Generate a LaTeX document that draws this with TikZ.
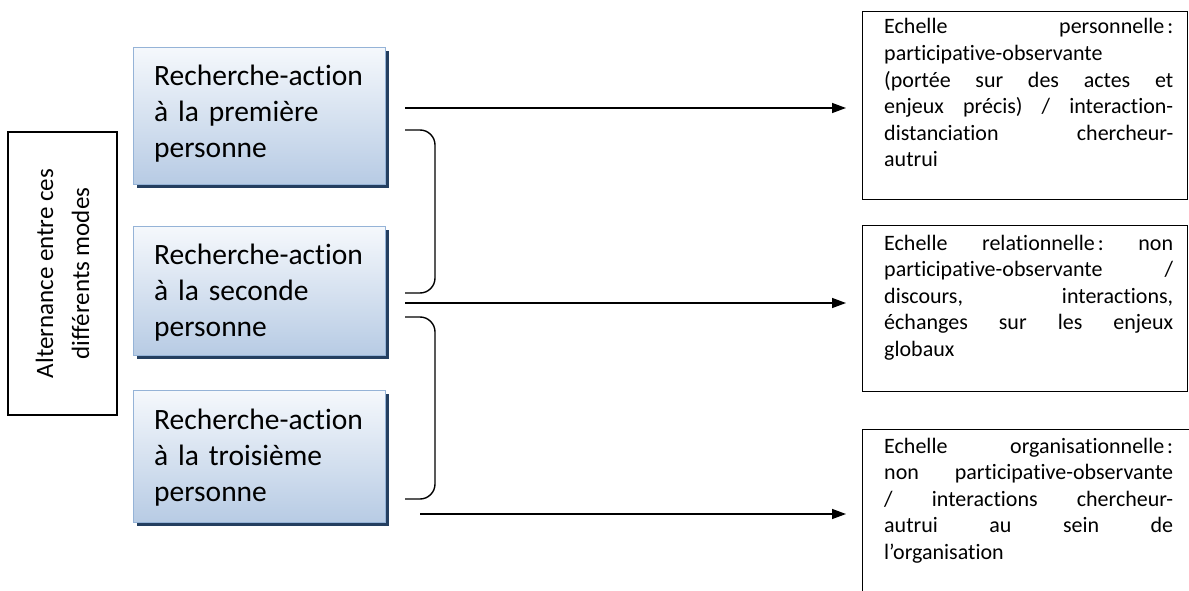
\documentclass[tikz,border=0pt]{standalone}
\usepackage{fontspec}
\setmainfont{Carlito}[Ligatures=NoCommon]
\usetikzlibrary{arrows.meta,shadows}
\definecolor{boxtop}{HTML}{F5F8FC}
\definecolor{boxbot}{HTML}{B7CBE4}
\definecolor{boxline}{HTML}{95B3D7}
\definecolor{shadowc}{HTML}{243F60}
\newcommand\jl[1]{\leavevmode\hbox to 289pt{#1}}
\begin{document}
\begin{tikzpicture}[x=1pt,y=-1pt,
  bluebox/.style={draw=boxline, line width=1.2pt, top color=boxtop, bottom color=boxbot,
    minimum width=252pt, anchor=north west, inner sep=0pt,
    drop shadow={shadow xshift=3pt, shadow yshift=-3pt, fill=shadowc, opacity=1}},
  bluetext/.style={anchor=base west, inner sep=0pt, align=left, text width=225pt,
    font=\fontsize{29.5}{36}\selectfont},
  scalebox/.style={draw=black, line width=1.3pt, anchor=north west, inner sep=0pt, minimum width=325pt},
  scaletext/.style={anchor=base west, inner sep=0pt, text width=289pt, align=left,
    font=\fontsize{22}{26.6}\selectfont},
  arr/.style={line width=1.4pt, -{Triangle[length=14pt,width=10pt]}, shorten >=16pt},
  bracket/.style={line width=1.4pt, rounded corners=15pt}
]
\useasboundingbox (0,0) rectangle (1189,591);

% left box
\node[draw=black, line width=1.3pt, minimum width=109pt, minimum height=283pt, inner sep=0pt]
  (alt) at (62.5,273.5) {};
\node[rotate=90, align=center, inner sep=0pt, font=\fontsize{25}{36}\selectfont]
  (altt) at (alt.center) {Alternance entre ces\\différents modes};

% blue boxes
\node[bluebox, minimum height=137pt] (b1) at (133,47) {};
\node[bluebox, minimum height=129pt] (b2) at (133,226) {};
\node[bluebox, minimum height=132pt] (b3) at (133,390) {};
\node[bluetext] (l1) at (154,86) {Recherche-action\\à la première\\personne};
\node[bluetext] (l2) at (154,264) {Recherche-action\\à la seconde\\personne};
\node[bluetext] (l3) at (154,429) {Recherche-action\\à la troisième\\personne};

% right boxes
\node[scalebox, minimum height=188pt] (r1) at (862,11) {};
\node[scalebox, minimum height=166pt] (r2) at (862,225) {};
\node[scalebox, minimum width=340pt, minimum height=190pt] (r3) at (862,429) {};
\node[scaletext] (t1) at (884,34) {\jl{Echelle\hfill personnelle\kern3pt:}\\
participative-observante\\
\jl{(portée\hfill sur\hfill des\hfill actes\hfill et}\\
\jl{enjeux\hfill précis)\hfill /\hfill interaction-}\\
\jl{distanciation\hfill chercheur-}\\
autrui};
\node[scaletext] (t2) at (884,250) {\jl{Echelle\hfill relationnelle\kern3pt:\hfill non}\\
\jl{participative-observante\hfill /}\\
\jl{discours,\hfill interactions,}\\
\jl{échanges\hfill sur\hfill les\hfill enjeux}\\
globaux};
\node[scaletext] (t3) at (884,453) {\jl{Echelle\hfill organisationnelle\kern3pt:}\\
\jl{non\hfill participative-observante}\\
\jl{/\hfill interactions\hfill chercheur-}\\
\jl{autrui\hfill au\hfill sein\hfill de}\\
l’organisation};

% brackets
\draw[bracket] (405,130) -- (435,130) -- (435,293) -- (405,293);
\draw[bracket] (405,317) -- (435,317) -- (435,499) -- (405,499);

% arrows
\coordinate (s1) at (405,108);
\coordinate (s2) at (405,303);
\coordinate (s3) at (420,514);
\draw[arr] (s1) -- (s1 -| r1.west);
\draw[arr] (s2) -- (s2 -| r2.west);
\draw[arr] (s3) -- (s3 -| r3.west);
\end{tikzpicture}
\end{document}
